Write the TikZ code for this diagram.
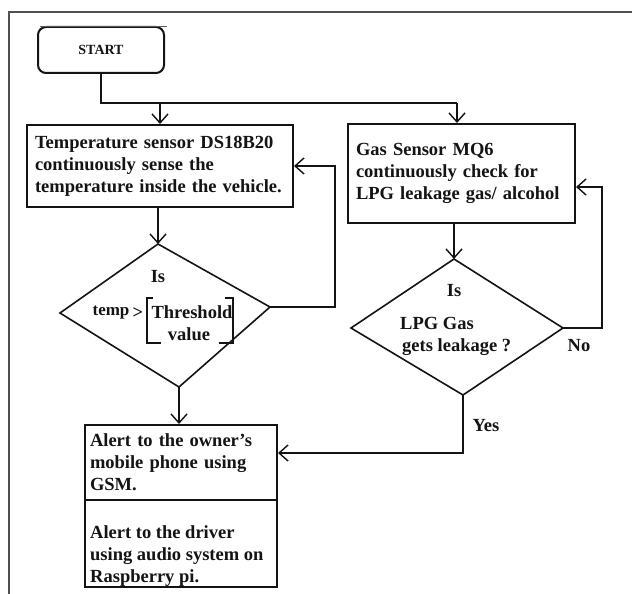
\documentclass[tikz,border=0pt]{standalone}
\usepackage{fontspec}
\setmainfont{Liberation Serif}
\usetikzlibrary{arrows.meta}
\definecolor{ink}{HTML}{141414}
\definecolor{framec}{HTML}{505050}
\begin{document}
\begin{tikzpicture}[x=1pt,y=-1pt,
  every node/.style={font=\bfseries\fontsize{18.5}{22}\selectfont, text=ink},
  box/.style={draw=ink, line width=2pt, rectangle, inner xsep=8pt, inner ysep=0pt, align=left},
  flow/.style={draw=ink, line width=2pt},
  arr/.style={flow, -{Straight Barb[length=9pt,width=16pt,line width=1.4pt]}},
  dia/.style={draw=ink, line width=1.6pt},
  brk/.style={draw=ink, line width=1.5pt},
  lbl/.style={inner sep=0pt}
]
\useasboundingbox (0,0) rectangle (632,594);
\fill[white] (0,0) rectangle (632,594);
\draw[framec, line width=1.5pt] (9,594) -- (9,12) -- (632,12);

% start
\node[draw=ink, line width=2pt, rounded corners=8pt, minimum width=126pt, minimum height=46pt, inner sep=0pt, font=\bfseries\fontsize{14}{16}\selectfont] (start) at (101,50) {START};
\draw[line width=1pt, ink!70] (40,26.5) -- (167,26.5);

% boxes
\node[box, text width=250pt, minimum height=82pt] (temp) at (160,166) {Temperature sensor DS18B20\\continuously sense the\\temperature inside the vehicle.};
\node[box, text width=211pt, minimum height=99pt] (gas) at (461.5,173.5) {Gas Sensor MQ6\\continuously check for\\LPG leakage gas/ alcohol};
\node[box, inner xsep=5pt, text width=182pt, minimum height=75pt] (alertA) at (181,462.5) {Alert to the owner's\\mobile phone using\\GSM.};
\node[draw=ink, line width=2pt, minimum width=192pt, minimum height=87pt, inner sep=0pt] (alertB) at (181,543.5) {};
\node[lbl, anchor=west, align=left] (alertBt) at (90,556) {Alert to the driver\\using audio system on\\Raspberry pi.};

% temperature decision
\coordinate (d1t) at (158,244);
\coordinate (d1r) at (270,307);
\coordinate (d1b) at (179,387);
\coordinate (d1l) at (60,313);
\draw[dia] (d1t) -- (d1r) -- (d1b) -- (d1l) -- cycle;
\node[lbl] (is1) at (158,277) {Is};
\node[lbl, font=\bfseries\fontsize{17}{20}\selectfont] (temp1) at (111,313) {temp};
\node[lbl] (gt) at (138,313) {>};
\draw[brk] (153,298) -- (147,298) -- (147,343) -- (161,343);
\draw[brk] (225,298) -- (233,298) -- (233,343) -- (219,343);
\node[lbl] (thr) at (192,312) {Threshold};
\node[lbl] (val) at (189,334) {value};

% gas decision
\coordinate (d2t) at (454,259);
\coordinate (d2r) at (563,328);
\coordinate (d2b) at (463,395);
\coordinate (d2l) at (351,328);
\draw[dia] (d2t) -- (d2r) -- (d2b) -- (d2l) -- cycle;
\node[lbl] (is2) at (454,291) {Is};
\node[lbl, anchor=west] (lpg) at (400,323) {LPG Gas};
\node[lbl, anchor=west] (gets) at (402,347) {gets leakage ?};
\node[lbl] (no) at (579,346) {No};
\node[lbl] (yes) at (486,426) {Yes};

% connectors
\coordinate (jr) at (457,103);
\draw[flow] (start.south) |- (jr);
\draw[arr] (jr) -- (jr |- gas.north);
\draw[arr] (temp.north |- jr) -- (temp.north);
\draw[arr] (d1t |- temp.south) -- (d1t);
\draw[arr] (d1b) -- (d1b |- alertA.north);
\coordinate (tl) at (335,166);
\draw[arr] (d1r) -| (tl) -- (temp.east);
\draw[arr] (d2t |- gas.south) -- (d2t);
\coordinate (gl) at (602,187);
\draw[arr] (d2r) -| (gl) -- (gl -| gas.east);
\coordinate (yl) at (463,453);
\draw[arr] (d2b) -- (yl) -- (yl -| alertA.east);
\end{tikzpicture}
\end{document}
